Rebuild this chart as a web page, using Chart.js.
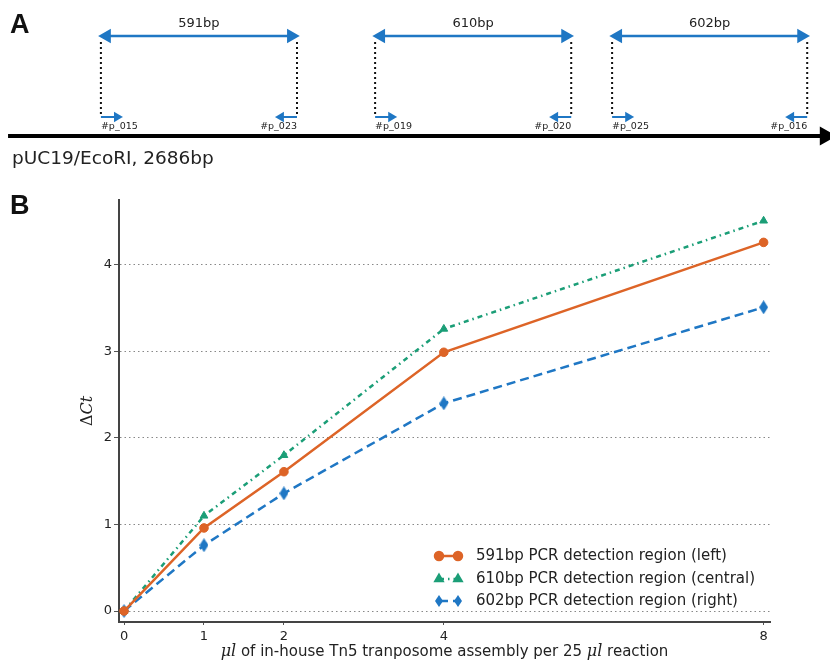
<!DOCTYPE html>
<html>
<head>
<meta charset="utf-8">
<script src="https://cdn.jsdelivr.net/npm/chart.js@4.4.1/dist/chart.umd.min.js"></script>
<style>
  html, body { margin: 0; padding: 0; background: #fff; }
  #page { position: relative; width: 830px; height: 661px; overflow: hidden; }
  .tag { position: absolute; z-index: 2; font: bold 27px "Liberation Sans", Arial, sans-serif; color: #111; line-height: 1; }
  #boxA { position: absolute; left: 0; top: 0; width: 830px; height: 175px; }
  #boxB { position: absolute; left: 0; top: 190px; width: 830px; height: 471px; }
</style>
</head>
<body>
<div id="page">
  <div class="tag" style="left:10px;top:11px">A</div>
  <div class="tag" style="left:10px;top:192px">B</div>
  <div id="boxA"><canvas id="mapCanvas"></canvas></div>
  <div id="boxB"><canvas id="ctCanvas"></canvas></div>
</div>
<script>
// ---- panel A: amplicons on the plasmid (positions in bp, not to scale in the original)
const ampLabels = ['591bp', '610bp', '602bp'];
const ampStart = [301, 1119, 1826];
const ampEnd = [886, 1704, 2408];
const fwdPrimers = ['#p_015', '#p_019', '#p_025'];
const revPrimers = ['#p_023', '#p_020', '#p_016'];
const plasmidLabel = 'pUC19/EcoRI, 2686bp';

// ---- panel B: delta Ct vs Tn5 volume
const xValues = [0, 1, 2, 4, 8];
const xTicks = [0, 1, 2, 4, 8];
const yTicks = [0, 1, 2, 3, 4];
const seriesNames = [
  '591bp PCR detection region (left)',
  '610bp PCR detection region (central)',
  '602bp PCR detection region (right)'
];
const left591 = [0, 0.96, 1.61, 2.99, 4.26];
const central610 = [0, 1.10, 1.80, 3.26, 4.51];
const right602 = [0, 0.76, 1.36, 2.40, 3.51];

const BLUE = '#1f77c4';
const ORANGE = '#dd6427';
const GREEN = '#1b9e77';

// rows of the diagram (y runs top->bottom)
const spanY = 36, dashTop = 42, primerY = 117, baseY = 136;
const primerLen = 48;   // bp, arrow shaft
const headInset = 17;   // bp, keeps arrow tips on the dotted lines

function seg(x1, y1, x2, y2, extra) {
  return Object.assign({
    data: [{x: x1, y: y1}, {x: x2, y: y2}],
    showLine: true,
    pointRadius: 0,
    borderWidth: 2
  }, extra);
}

var mapSets = [];
for (let i = 0; i < ampLabels.length; i++) {
  mapSets.push(seg(ampStart[i] + headInset, spanY, ampEnd[i] - headInset, spanY, {
    borderColor: BLUE, backgroundColor: BLUE, borderWidth: 2.5,
    pointStyle: 'triangle', pointRadius: 6, pointRotation: [-90, 90]
  }));
  mapSets.push(seg(ampStart[i], dashTop, ampStart[i], primerY, {borderColor: '#111', borderDash: [2, 3]}));
  mapSets.push(seg(ampEnd[i], dashTop, ampEnd[i], primerY, {borderColor: '#111', borderDash: [2, 3]}));
  mapSets.push(seg(ampStart[i], primerY, ampStart[i] + primerLen, primerY, {
    borderColor: BLUE, backgroundColor: BLUE,
    pointStyle: 'triangle', pointRadius: [0, 4], pointRotation: 90
  }));
  mapSets.push(seg(ampEnd[i], primerY, ampEnd[i] - primerLen, primerY, {
    borderColor: BLUE, backgroundColor: BLUE,
    pointStyle: 'triangle', pointRadius: [0, 4], pointRotation: -90
  }));
}
mapSets.push(seg(24, baseY, 2462, baseY, {
  borderColor: '#000', backgroundColor: '#000', borderWidth: 4,
  pointStyle: 'triangle', pointRadius: [0, 7], pointRotation: 90
}));

const mapText = {
  id: 'mapText',
  afterDatasetsDraw(chart) {
    const ctx = chart.ctx, xs = chart.scales.x, ys = chart.scales.y;
    ctx.save();
    ctx.fillStyle = '#222';
    ctx.textBaseline = 'middle';
    ctx.font = '13px "DejaVu Sans"';
    ctx.textAlign = 'center';
    for (let i = 0; i < ampLabels.length; i++) {
      let mid = (xs.getPixelForValue(ampStart[i]) + xs.getPixelForValue(ampEnd[i])) / 2;
      ctx.fillText(ampLabels[i], mid, ys.getPixelForValue(spanY - 12));
    }
    ctx.font = '9.5px "DejaVu Sans"';
    for (let i = 0; i < ampLabels.length; i++) {
      ctx.textAlign = 'left';
      ctx.fillText(fwdPrimers[i], xs.getPixelForValue(ampStart[i]), ys.getPixelForValue(primerY + 10));
      ctx.textAlign = 'right';
      ctx.fillText(revPrimers[i], xs.getPixelForValue(ampEnd[i]), ys.getPixelForValue(primerY + 10));
    }
    ctx.textAlign = 'left';
    ctx.font = '18.5px "DejaVu Sans"';
    ctx.fillText(plasmidLabel, xs.getPixelForValue(36), ys.getPixelForValue(baseY + 23));
    ctx.restore();
  }
};

new Chart(document.getElementById('mapCanvas'), {
  type: 'scatter',
  data: {datasets: mapSets},
  options: {
    responsive: true,
    maintainAspectRatio: false,
    animation: false,
    events: [],
    layout: {padding: 0, autoPadding: false},
    plugins: {legend: {display: false}, tooltip: {enabled: false}},
    scales: {
      x: {type: 'linear', display: false, min: 0, max: 2476},
      y: {type: 'linear', display: false, min: 0, max: 175, reverse: true}
    }
  },
  plugins: [mapText]
});

// thin diamond marker like matplotlib 'd'
function thinDiamond(color, w, h) {
  const c = document.createElement('canvas');
  c.width = w; c.height = h;
  const g = c.getContext('2d');
  g.fillStyle = color;
  g.beginPath();
  g.moveTo(w / 2, 0); g.lineTo(w, h / 2); g.lineTo(w / 2, h); g.lineTo(0, h / 2);
  g.closePath();
  g.fill();
  return c;
}
const diamond = thinDiamond(BLUE, 9, 14);
const diamondSmall = thinDiamond(BLUE, 8, 12);

function pts(ys) {
  return xValues.map((x, i) => ({x: x, y: ys[i]}));
}

const axisTitles = {
  id: 'axisTitles',
  afterDraw(chart) {
    const ctx = chart.ctx, a = chart.chartArea;
    ctx.save();
    ctx.fillStyle = '#222';
    ctx.textBaseline = 'middle';
    ctx.textAlign = 'left';
    const parts = [
      ['italic 16px "DejaVu Serif"', '\u03bcl'],
      ['15px "DejaVu Sans"', ' of in-house Tn5 tranposome assembly per 25 '],
      ['italic 16px "DejaVu Serif"', '\u03bcl'],
      ['15px "DejaVu Sans"', ' reaction']
    ];
    let w = 0;
    parts.forEach(p => { ctx.font = p[0]; w += ctx.measureText(p[1]).width; });
    let x = (a.left + a.right) / 2 - w / 2;
    parts.forEach(p => { ctx.font = p[0]; ctx.fillText(p[1], x, 462); x += ctx.measureText(p[1]).width; });

    ctx.translate(88, (a.top + a.bottom) / 2);
    ctx.rotate(-Math.PI / 2);
    const yparts = [['16px "DejaVu Serif"', '\u0394'], ['italic 16px "DejaVu Serif"', 'Ct']];
    w = 0;
    yparts.forEach(p => { ctx.font = p[0]; w += ctx.measureText(p[1]).width; });
    x = -w / 2;
    yparts.forEach(p => { ctx.font = p[0]; ctx.fillText(p[1], x, 0); x += ctx.measureText(p[1]).width; });
    ctx.restore();
  }
};

const legendMarkers = ['circle', 'triangle', diamondSmall];
const legendRadius = [4, 4, 5];

const sampleLegend = {
  id: 'sampleLegend',
  afterDraw(chart) {
    const ctx = chart.ctx;
    const rows = [366, 389, 411];
    ctx.save();
    chart.data.datasets.forEach((ds, i) => {
      const y = rows[i];
      ctx.strokeStyle = ds.borderColor;
      ctx.fillStyle = ds.borderColor;
      ctx.lineWidth = ds.borderWidth;
      ctx.setLineDash(ds.borderDash || []);
      ctx.beginPath();
      ctx.moveTo(439, y);
      ctx.lineTo(458, y);
      ctx.stroke();
      ctx.setLineDash([]);
      [439, 458].forEach(px => {
        Chart.helpers.drawPoint(ctx, {
          pointStyle: legendMarkers[i], radius: legendRadius[i], rotation: 0, borderWidth: 1
        }, px, y);
      });
      ctx.fillStyle = '#222';
      ctx.font = '15px "DejaVu Sans"';
      ctx.textBaseline = 'middle';
      ctx.textAlign = 'left';
      ctx.fillText(ds.label, 476, y);
    });
    ctx.restore();
  }
};

new Chart(document.getElementById('ctCanvas'), {
  type: 'line',
  data: {
    datasets: [
      {
        label: seriesNames[0], data: pts(left591),
        borderColor: ORANGE, backgroundColor: ORANGE, borderWidth: 2.5,
        pointStyle: 'circle', pointRadius: 4.3, pointBorderWidth: 1
      },
      {
        label: seriesNames[1], data: pts(central610),
        borderColor: GREEN, backgroundColor: GREEN, borderWidth: 2.5, borderDash: [5, 4, 1.5, 4],
        pointStyle: 'triangle', pointRadius: 4.5, pointBorderWidth: 1
      },
      {
        label: seriesNames[2], data: pts(right602),
        borderColor: BLUE, backgroundColor: BLUE, borderWidth: 2.5, borderDash: [9, 5],
        pointStyle: diamond, pointRadius: 6, pointBorderWidth: 1
      }
    ]
  },
  options: {
    responsive: true,
    maintainAspectRatio: false,
    animation: false,
    events: [],
    layout: {padding: {top: 10, right: 60, bottom: 0, left: 0}},
    plugins: {legend: {display: false}, tooltip: {enabled: false}},
    elements: {line: {tension: 0}},
    scales: {
      x: {
        type: 'linear', min: -0.063, max: 8.08,
        afterBuildTicks: s => { s.ticks = xTicks.map(v => ({value: v})); },
        afterFit: s => { s.height = 39; },
        ticks: {color: '#222', font: {family: 'DejaVu Sans', size: 13}, padding: 4, maxRotation: 0},
        grid: {drawOnChartArea: false, drawTicks: true, tickLength: 3, tickColor: '#555'},
        border: {display: true, color: '#444', width: 2}
      },
      y: {
        type: 'linear', min: -0.127, max: 4.75,
        afterBuildTicks: s => { s.ticks = yTicks.map(v => ({value: v})); },
        afterFit: s => { s.width = 119; },
        ticks: {color: '#222', font: {family: 'DejaVu Sans', size: 13}, padding: 2},
        grid: {color: '#888', lineWidth: 1, tickLength: 5, tickColor: '#555', tickBorderDash: []},
        border: {display: true, color: '#444', width: 2, dash: [1.5, 3]}
      }
    }
  },
  plugins: [axisTitles, sampleLegend]
});
</script>
</body>
</html>
